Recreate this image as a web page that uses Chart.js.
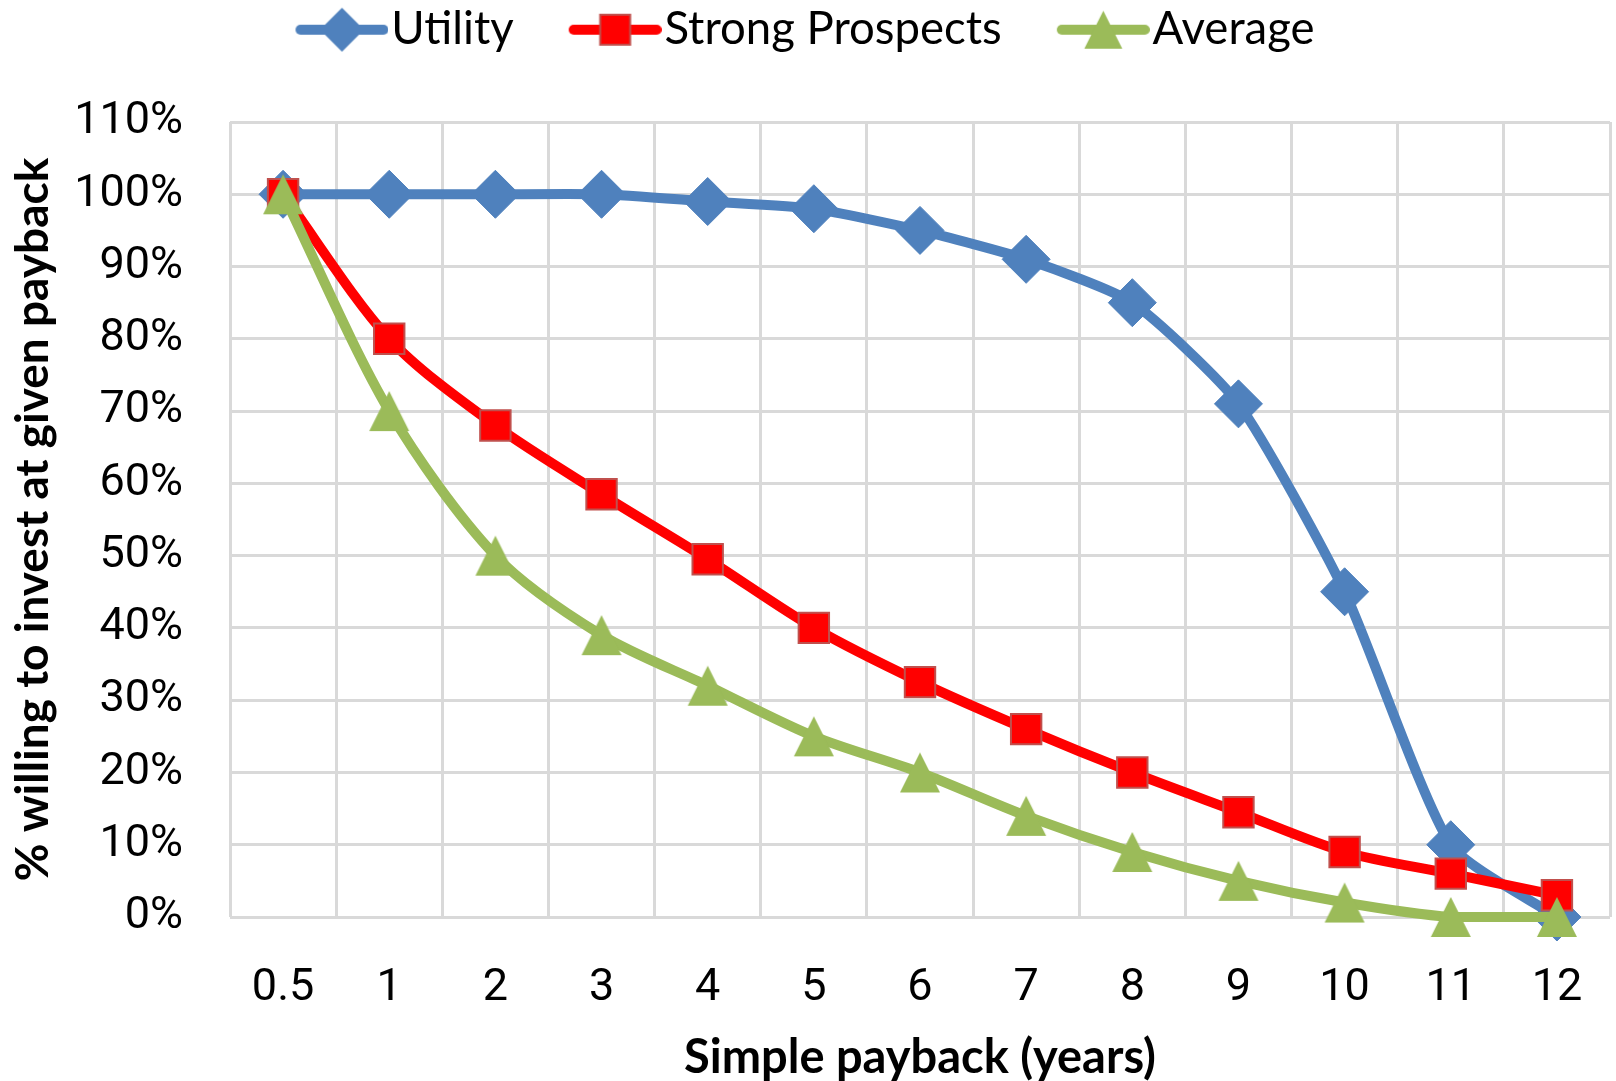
<!DOCTYPE html>
<html>
<head>
<meta charset="utf-8">
<script src="https://cdn.jsdelivr.net/npm/chart.js@4/dist/chart.umd.min.js"></script>
<style>
  html, body { margin: 0; padding: 0; background: #fff; }
  #wrap { width: 1616px; height: 1081px; }
</style>
</head>
<body>
<div id="wrap"><canvas id="chart"></canvas></div>
<script>
const paybackYears = ['0.5', '1', '2', '3', '4', '5', '6', '7', '8', '9', '10', '11', '12'];
const utility = [100, 100, 100, 100, 99, 98, 95, 91, 85, 71, 45, 10, 0];
const strongProspects = [100, 80, 68, 58.5, 49.5, 40, 32.5, 26, 20, 14.5, 9, 6, 3];
const average = [100, 70, 50, 39, 32, 25, 20, 14, 9, 5, 2, 0, 0];
const yTicks = [0, 10, 20, 30, 40, 50, 60, 70, 80, 90, 100, 110];

const FONT = 'Lato, "Open Sans", sans-serif';
const TICK_FONT = 'Roboto, "Open Sans", sans-serif';
const BLUE = '#4F81BD', RED = '#FF0000', GREEN = '#9BBB59';

// legend symbol: line with marker in the middle, drawn on a small canvas
function legendSymbol(color, border, shape) {
  const c = document.createElement('canvas');
  c.width = 113;
  c.height = 50;
  const g = c.getContext('2d');
  g.strokeStyle = color;
  g.lineWidth = 10;
  g.lineCap = 'round';
  g.beginPath();
  g.moveTo(25, 25);
  g.lineTo(108, 25);
  g.stroke();
  const cx = 66.5, cy = 25;
  g.fillStyle = color;
  g.strokeStyle = border;
  g.lineWidth = 2;
  g.beginPath();
  if (shape === 'diamond') {
    g.moveTo(cx, cy - 22); g.lineTo(cx + 22, cy); g.lineTo(cx, cy + 22); g.lineTo(cx - 22, cy);
  } else if (shape === 'square') {
    g.rect(cx - 15, cy - 15, 30, 30);
  } else {
    g.moveTo(cx, cy - 19); g.lineTo(cx + 19, cy + 19); g.lineTo(cx - 19, cy + 19);
  }
  g.closePath();
  g.fill();
  if (shape === 'square') g.stroke();
  return c;
}

// triangle marker centred on its box (like Excel), not on its circumcentre
function triangleMarker(color) {
  const c = document.createElement('canvas');
  c.width = 42;
  c.height = 42;
  const g = c.getContext('2d');
  g.fillStyle = color;
  g.beginPath();
  g.moveTo(21, 1);
  g.lineTo(41, 41);
  g.lineTo(1, 41);
  g.closePath();
  g.fill();
  return c;
}

const symbols = [
  legendSymbol(BLUE, BLUE, 'diamond'),
  legendSymbol(RED, '#C0504D', 'square'),
  legendSymbol(GREEN, GREEN, 'triangle')
];

// legend box tall enough so the plot starts lower
const legendMargin = {
  id: 'legendMargin',
  beforeInit(chart) {
    const fit = chart.legend.fit;
    chart.legend.fit = function () {
      fit.call(this);
      this.height = 170;
    };
  }
};

new Chart(document.getElementById('chart'), {
  type: 'line',
  data: {
    labels: paybackYears,
    datasets: [
      {
        label: 'Utility',
        data: utility,
        borderColor: BLUE,
        backgroundColor: BLUE,
        pointBorderColor: BLUE,
        borderWidth: 10,
        pointStyle: 'rectRot',
        pointRadius: 24,
        pointBorderWidth: 1,
        tension: 0.2,
        clip: false,
        order: 3
      },
      {
        label: 'Strong Prospects',
        data: strongProspects,
        borderColor: RED,
        backgroundColor: RED,
        pointBorderColor: '#C0504D',
        borderWidth: 10,
        pointStyle: 'rect',
        pointRadius: 21.5,
        pointBorderWidth: 2,
        tension: 0.3,
        clip: false,
        order: 2
      },
      {
        label: 'Average',
        data: average,
        borderColor: GREEN,
        backgroundColor: GREEN,
        pointBorderColor: GREEN,
        borderWidth: 10,
        pointStyle: triangleMarker(GREEN),
        pointRadius: 24,
        pointBorderWidth: 1,
        tension: 0.3,
        clip: false,
        order: 1
      }
    ]
  },
  options: {
    responsive: true,
    maintainAspectRatio: false,
    animation: false,
    events: [],
    layout: { autoPadding: false, padding: { top: -48, right: 6, bottom: 0, left: 0 } },
    plugins: {
      tooltip: { enabled: false },
      legend: {
        position: 'top',
        labels: {
          usePointStyle: true,
          pointStyleWidth: 73,
          padding: 55,
          color: '#000',
          font: { family: FONT, size: 45.5 },
          generateLabels(chart) {
            return chart.data.datasets.map((ds, i) => ({
              text: ds.label,
              pointStyle: symbols[i],
              fillStyle: ds.borderColor,
              strokeStyle: ds.borderColor,
              lineWidth: 0,
              fontColor: '#000',
              datasetIndex: i,
              hidden: false
            }));
          }
        }
      }
    },
    scales: {
      x: {
        type: 'category',
        offset: true,
        grid: { offset: true, color: '#D9D9D9', lineWidth: 3, drawTicks: false },
        border: { display: false },
        ticks: { color: '#000', font: { family: TICK_FONT, size: 45 }, padding: 45, maxRotation: 0 },
        title: {
          display: true,
          text: 'Simple payback (years)',
          color: '#000',
          font: { family: FONT, size: 47, weight: 'bold', lineHeight: 1.0 },
          padding: { top: 0, bottom: 0 }
        },
        afterFit(scale) {
          scale.height = 164;
          scale.paddingLeft = 0;
          scale.paddingRight = 0;
        }
      },
      y: {
        min: 0,
        max: 110,
        afterBuildTicks(scale) {
          scale.ticks = yTicks.map(v => ({ value: v }));
        },
        grid: { color: '#D9D9D9', lineWidth: 3, drawTicks: false },
        border: { display: false },
        ticks: {
          color: '#000',
          font: { family: TICK_FONT, size: 45 },
          padding: 47,
          callback: v => v + '%'
        },
        title: {
          display: true,
          text: '% willing to invest at given payback',
          color: '#000',
          font: { family: FONT, size: 46, weight: 'bold', lineHeight: 1.1 },
          padding: { top: 8, bottom: 0 }
        },
        afterFit(scale) {
          scale.width = 230;
        }
      }
    }
  },
  plugins: [legendMargin]
});
</script>
</body>
</html>
